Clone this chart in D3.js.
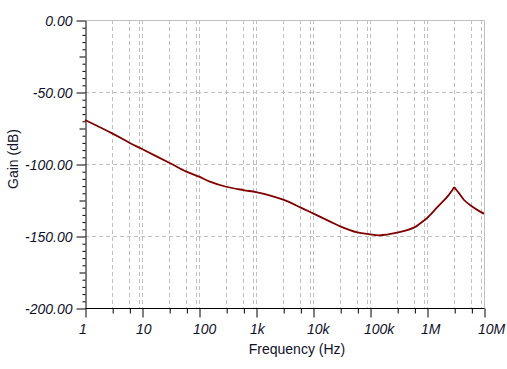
<!DOCTYPE html>
<html>
<head>
<meta charset="utf-8">
<script src="https://cdn.jsdelivr.net/npm/d3@7"></script>
<style>
  html, body { margin: 0; padding: 0; background: #fff; }
  svg { display: block; }
  text { font-family: "Liberation Sans", Arial, sans-serif; }
</style>
</head>
<body>
<svg id="chart" width="507" height="369"></svg>
<script>
// ---- Data ----
const freq = [1, 3, 6, 10, 30, 60, 100, 155, 300, 600, 1000, 1550, 3000, 6000, 10000,
  20000, 30000, 60000, 100000, 143000, 300000, 600000, 775000, 1000000, 1520000,
  2280000, 2800000, 3000000, 3300000, 3660000, 4470000, 6000000, 9000000, 10000000];
const gain = [-69.4, -78.7, -85.2, -89.6, -99.1, -105.3, -108.8, -112.2, -115.8, -118.1, -119.5,
  -121.2, -124.8, -130.1, -134.3, -140, -143.3, -147.5, -148.8, -149.5, -147.7, -144,
  -141, -137.6, -130, -122.7, -118, -116.2, -118.2, -120.4, -125, -129.2, -133.6, -134.5];

const xMajorTicks = [1, 10, 100, 1e3, 1e4, 1e5, 1e6, 1e7];
const xTickLabels = ["1", "10", "100", "1k", "10k", "100k", "1M", "10M"];
const yMajorTicks = [0, -50, -100, -150, -200];
const yTickLabels = ["0.00", "-50.00", "-100.00", "-150.00", "-200.00"];
const xTitle = "Frequency (Hz)";
const yTitle = "Gain (dB)";

// ---- Layout ----
const svg = d3.select("#chart");
const mLeft = 85, mRight = 484, mTop = 20, mBottom = 308;

const x = d3.scaleLog().domain([1, 1e7]).range([mLeft, mRight]);
const y = d3.scaleLinear().domain([-200, 0]).range([mBottom, mTop]);

const gridColor = "#c0c0c0";
const textColor = "#10102a";

// vertical grid lines at 3,6,9,10 per decade
const xGrid = [];
xMajorTicks.slice(0, -1).forEach(d => { [3, 6, 9].forEach(m => xGrid.push(d * m)); xGrid.push(d * 10); });
const xGridDashed = xGrid.filter(v => v < 1e7);

const g = svg.append("g");

g.append("g").selectAll("line").data(xGridDashed).join("line")
  .attr("x1", d => Math.round(x(d)) + 0.5).attr("x2", d => Math.round(x(d)) + 0.5)
  .attr("y1", mTop).attr("y2", mBottom)
  .attr("stroke", gridColor).attr("stroke-width", 1).attr("stroke-dasharray", "4,3");

g.append("g").selectAll("line").data([-50, -100, -150]).join("line")
  .attr("x1", mLeft).attr("x2", mRight)
  .attr("y1", d => Math.round(y(d)) + 0.5).attr("y2", d => Math.round(y(d)) + 0.5)
  .attr("stroke", gridColor).attr("stroke-width", 1).attr("stroke-dasharray", "4,3");

// top and right frame
g.append("line").attr("x1", mLeft).attr("x2", Math.round(x(1e7)) + 0.5)
  .attr("y1", Math.round(y(0)) + 0.5).attr("y2", Math.round(y(0)) + 0.5)
  .attr("stroke", gridColor);
g.append("line").attr("x1", Math.round(x(1e7)) + 0.5).attr("x2", Math.round(x(1e7)) + 0.5)
  .attr("y1", mTop).attr("y2", mBottom).attr("stroke", gridColor);

// ---- Axes ----
const xMinor = [];
xMajorTicks.slice(0, -1).forEach(d => { xMinor.push(d * 3, d * 6); });
const yMinor = d3.range(-195, 0, 5).filter(v => v % 50 !== 0);

const xAxisG = svg.append("g").attr("transform", `translate(0.5,${mBottom + 0.5})`);
xAxisG.call(d3.axisBottom(x).tickValues(xMajorTicks).tickSize(9).tickSizeOuter(0)
  .tickFormat((d, i) => xTickLabels[i]));
xAxisG.append("g").call(d3.axisBottom(x).tickValues(xMinor).tickSize(5).tickFormat(""))
  .select(".domain").remove();
xAxisG.selectAll(".domain").attr("stroke", "#000").attr("d", `M${mLeft},0H${mRight}`);
xAxisG.selectAll(".tick line").attr("stroke", "#000");
xAxisG.selectAll(".tick text")
  .attr("fill", textColor).attr("font-size", 14).attr("font-style", "italic")
  .attr("font-family", "'Liberation Sans', Arial, sans-serif")
  .attr("text-anchor", "start").attr("x", -7).attr("y", 25).attr("dy", 0);

const yAxisG = svg.append("g").attr("transform", `translate(${mLeft + 0.5},0.5)`);
yAxisG.call(d3.axisLeft(y).tickValues(yMajorTicks).tickSize(9).tickSizeOuter(0)
  .tickFormat((d, i) => yTickLabels[i]));
const yMinorG = yAxisG.append("g");
yMinorG.call(d3.axisLeft(y).tickValues(yMinor).tickSize(3).tickFormat(""));
yMinorG.select(".domain").remove();
yMinorG.selectAll(".tick line").attr("x2", d => (d % 25 === 0 ? -6 : -3));
yAxisG.selectAll(".domain").attr("stroke", "#000");
yAxisG.selectAll(".tick line").attr("stroke", "#000");
yAxisG.selectAll(".tick text")
  .attr("fill", textColor).attr("font-size", 14).attr("font-style", "italic")
  .attr("font-family", "'Liberation Sans', Arial, sans-serif")
  .attr("x", -13).attr("dy", "0.35em");

// ---- Titles ----
svg.append("text").attr("x", 297).attr("y", 354).attr("text-anchor", "middle")
  .attr("font-size", 14).attr("fill", textColor).text(xTitle);
svg.append("text").attr("transform", "translate(18,159) rotate(-90)")
  .attr("text-anchor", "middle").attr("font-size", 14).attr("fill", textColor).text(yTitle);

// ---- Curve ----
const pts = freq.map((f, i) => [f, gain[i]]);
svg.append("path").datum(pts)
  .attr("fill", "none").attr("stroke", "#800000").attr("stroke-width", 1.8)
  .attr("d", d3.line().x(d => x(d[0])).y(d => y(d[1])).curve(d3.curveCatmullRom.alpha(0.5)));
</script>
</body>
</html>
